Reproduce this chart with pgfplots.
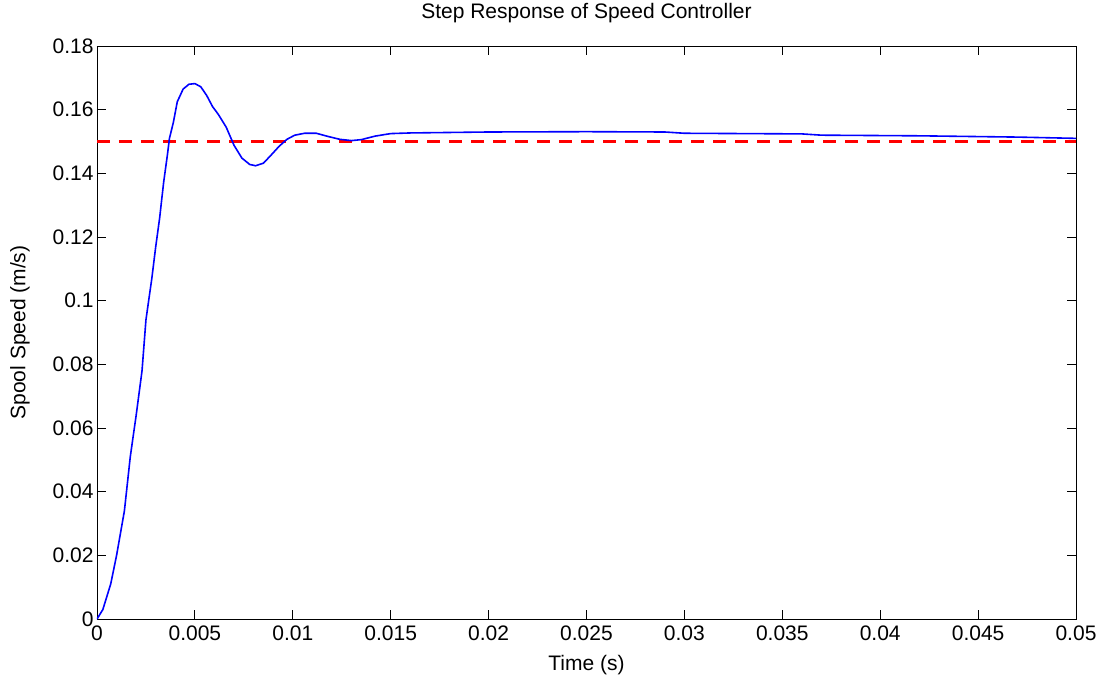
\documentclass[border=0pt]{standalone}
\usepackage{pgfplots}
\pgfplotsset{compat=1.18}
\usepackage{fontspec}
\setmainfont{Liberation Sans}
\begin{document}
\begin{tikzpicture}[x=1pt,y=1pt]
\begin{axis}[
  at={(0,0)}, anchor=south west,
  scale only axis, width=979pt, height=573pt,
  xmin=0, xmax=0.05, ymin=0, ymax=0.18,
  xtick={0,0.005,...,0.05},
  xticklabels={0,0.005,0.01,0.015,0.02,0.025,0.03,0.035,0.04,0.045,0.05},
  ytick={0,0.02,...,0.18},
  yticklabels={0,0.02,0.04,0.06,0.08,0.1,0.12,0.14,0.16,0.18},
  scaled ticks=false,
  tick align=inside, major tick length=9pt,
  tick style={black, line width=0.9pt},
  axis line style={black, line width=0.9pt},
  tick label style={font=\fontsize{21}{24}\selectfont},
  label style={font=\fontsize{21}{24}\selectfont},
  title style={font=\fontsize{21}{24}\selectfont},
  title={Step Response of Speed Controller},
  title style={at={(axis description cs:0.5,1.047)}, anchor=center},
  xlabel={Time (s)},
  xlabel style={at={(axis description cs:0.5,-0.0803)}, anchor=center},
  ylabel={Spool Speed (m/s)},
  ylabel style={at={(axis description cs:-0.0787,0.5)}, anchor=center, rotate=0},
  xticklabel style={yshift=-3pt},
]
\addplot[red, dash pattern=on 13pt off 9pt, line width=2.2pt] coordinates {(0,0.15) (0.05,0.15)};
\addplot[blue, line width=1.6pt] coordinates {
(0,0) (0.0003,0.003) (0.0007,0.011) (0.001,0.020) (0.0014,0.034) (0.0017,0.051)
(0.002,0.064) (0.0023,0.078) (0.0025,0.094) (0.0028,0.107) (0.003,0.117)
(0.0032,0.126) (0.0034,0.137) (0.0036,0.146) (0.0037,0.151) (0.0039,0.156)
(0.0041,0.1625) (0.0044,0.1665) (0.0047,0.168) (0.0050,0.1682) (0.0053,0.1672)
(0.0056,0.1645) (0.0059,0.161) (0.0062,0.1585) (0.0066,0.1545) (0.0070,0.1488)
(0.0074,0.1448) (0.0078,0.1428) (0.0081,0.1424) (0.0085,0.1432) (0.0089,0.1458)
(0.0093,0.1485) (0.0097,0.1507) (0.0101,0.1520) (0.0106,0.1526) (0.0112,0.1526)
(0.0118,0.1516) (0.0124,0.1507) (0.0130,0.1503) (0.0135,0.1506) (0.0142,0.1517)
(0.0150,0.1525) (0.0160,0.1527) (0.0200,0.1530) (0.0250,0.1531) (0.0290,0.1530)
(0.0300,0.1526) (0.0360,0.1524) (0.0370,0.1520) (0.0420,0.1518) (0.0470,0.1514)
(0.0500,0.1510)
};
\end{axis}
\path (-97pt,-63pt) rectangle (1004pt,618pt);
\end{tikzpicture}
\end{document}
